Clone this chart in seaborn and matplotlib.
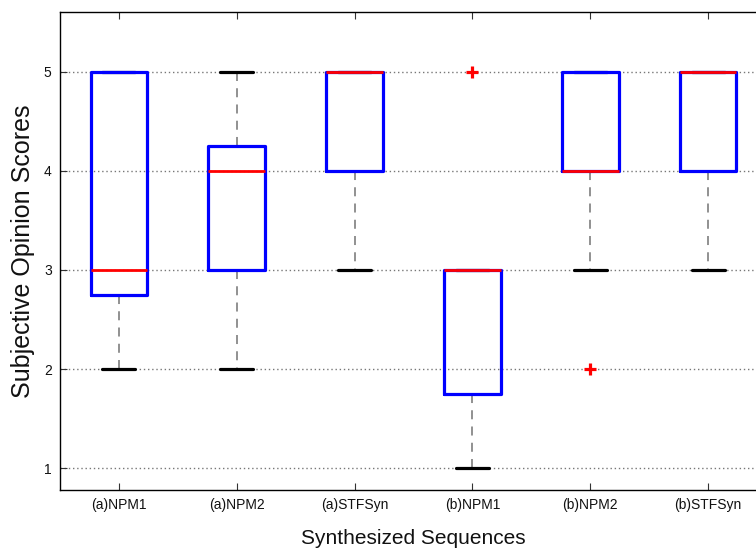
import matplotlib
matplotlib.use("Agg")
import matplotlib.pyplot as plt
import seaborn as sns
import pandas as pd

# subjective scores per synthesized sequence
categories = ["(a)NPM1", "(a)NPM2", "(a)STFSyn", "(b)NPM1", "(b)NPM2", "(b)STFSyn"]
a_npm1 = [2, 2, 3, 3, 3, 5, 5, 5]
a_npm2 = [2, 3, 3, 4, 4, 4, 5, 5]
a_stfsyn = [3, 4, 4, 5, 5, 5, 5, 5]
b_npm1 = [1, 1, 2, 3, 3, 3, 3, 5]
b_npm2 = [2, 3, 4, 4, 4, 5, 5, 5, 5]
b_stfsyn = [3, 4, 4, 5, 5, 5, 5, 5]
y_ticks = [1, 2, 3, 4, 5]

series = [a_npm1, a_npm2, a_stfsyn, b_npm1, b_npm2, b_stfsyn]
rows = []
for cat, vals in zip(categories, series):
    for v in vals:
        rows.append({"Sequence": cat, "Score": v})
df = pd.DataFrame(rows)

sns.set_style("white")
plt.rcParams['font.family'] = ['Liberation Sans', 'DejaVu Sans']

f = plt.figure(figsize=(7.56, 5.5), dpi=100)
ax = f.add_axes([60 / 756, 60 / 550, 707 / 756, 478 / 550])

sns.boxplot(data=df, x="Sequence", y="Score", order=categories, ax=ax,
            fill=False, width=0.48, whis=1.5,
            boxprops=dict(color="#0000ff", linewidth=2.3, zorder=3),
            medianprops=dict(color="#ff0000", linewidth=2.0, zorder=4),
            whiskerprops=dict(color="#888888", linewidth=1.3, linestyle=(0, (5, 4)), zorder=2),
            capprops=dict(color="black", linewidth=2.3, zorder=2),
            flierprops=dict(marker="+", markeredgecolor="#ff0000", markersize=8,
                            markeredgewidth=2.3))

# shorter caps, like the matlab look
for line in ax.lines:
    xs = line.get_xdata()
    if line.get_color() == "black" and len(xs) == 2 and line.get_marker() in ("None", "", None):
        c = (xs[0] + xs[-1]) / 2
        line.set_xdata([c - 0.14, c + 0.14])
        line.set_zorder(2)

ax.set_xlim(-0.5, 5.5)
ax.set_ylim(0.78, 5.6)
ax.set_yticks(y_ticks)
ax.yaxis.grid(True, linestyle=(0, (1, 2)), color="#777777", linewidth=1.0)
ax.set_axisbelow(True)

for side, spine in ax.spines.items():
    spine.set_visible(True)
    spine.set_color("black")
    spine.set_linewidth(1.0)

ax.tick_params(axis="x", direction="in", length=5, top=True, bottom=True,
               labelsize=10, pad=6, colors="#333333", labelcolor="#111111")
ax.tick_params(axis="y", direction="in", length=5, left=True, right=False,
               labelsize=10, pad=6, colors="#333333", labelcolor="#111111")

ax.set_xlabel("Synthesized Sequences", fontsize=15, labelpad=12, color="#111111")
ax.set_ylabel("Subjective Opinion Scores", fontsize=18, labelpad=6, color="#111111")

f.savefig("out.png", dpi=100, facecolor="white")
